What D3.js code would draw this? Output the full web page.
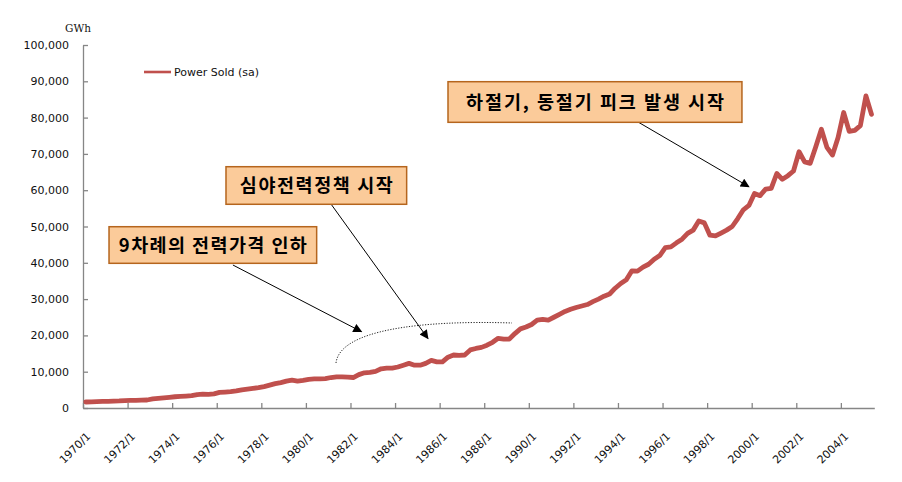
<!DOCTYPE html>
<html>
<head>
<meta charset="utf-8">
<script src="https://cdn.jsdelivr.net/npm/d3@7"></script>
<style>
  html, body { margin: 0; padding: 0; background: #fff; }
  svg { display: block; }
</style>
</head>
<body>
<div id="chart"></div>
<script>
// ---------------- data ----------------
const startYear = 1970;
const quarterCount = 142; // 1970/1 .. 2005/2
const categories = d3.range(quarterCount).map(i => `${startYear + Math.floor(i / 4)}/${(i % 4) + 1}`);

const seriesName = "Power Sold (sa)";
const powerSold = [
  1650, 1700, 1750, 1800,     // 1970
  1850, 1900, 1950, 2050,     // 1971
  2100, 2100, 2150, 2200,     // 1972
  2500, 2650, 2800, 2950,     // 1973
  3100, 3200, 3300, 3400,     // 1974
  3700, 3800, 3750, 3900,     // 1975
  4300, 4400, 4500, 4700,     // 1976
  5000, 5200, 5400, 5600,     // 1977
  5900, 6300, 6700, 7000,     // 1978
  7400, 7700, 7400, 7600,     // 1979
  7900, 8000, 8000, 8100,     // 1980
  8400, 8600, 8600, 8500,     // 1981
  8400, 9200, 9700, 9800,     // 1982
  10100, 10800, 11000, 11000, // 1983
  11300, 11800, 12300, 11800, // 1984
  11800, 12300, 13100, 12700, // 1985
  12700, 14000, 14600, 14500, // 1986
  14600, 16000, 16400, 16700, // 1987
  17300, 18100, 19200, 19000, // 1988
  19000, 20500, 21800, 22300, // 1989
  23000, 24200, 24400, 24200, // 1990
  25000, 25800, 26600, 27200, // 1991
  27700, 28100, 28500, 29300, // 1992
  30000, 30800, 31400, 33000, // 1993
  34300, 35300, 37800, 37700, // 1994
  38800, 39600, 41000, 42000, // 1995
  44200, 44400, 45500, 46500, // 1996
  48100, 49000, 51500, 51000, // 1997
  47600, 47400, 48200, 49000, // 1998
  50000, 52200, 54600, 55800, // 1999
  59100, 58500, 60300, 60500, // 2000
  64600, 63000, 64000, 65300, // 2001
  70600, 67800, 67400, 72000, // 2002
  76800, 71800, 69700, 74500, // 2003
  81400, 76200, 76500, 77800, // 2004
  86000, 80900                // 2005
];

const yTicks = [0, 10000, 20000, 30000, 40000, 50000, 60000, 70000, 80000, 90000, 100000];
const xTickEvery = 8; // label every 2 years
const unitLabel = "GWh";

// annotations (positions in data units: quarter index, GWh)
const annotationTexts = ["하절기, 동절기 피크 발생 시작", "심야전력정책 시작", "9차례의 전력가격 인하"];
const annotationTextWidths = [258, 153, 188];
const annotationBoxes = [
  { i0: 65.5, i1: 118.25, v0: 89890, v1: 78700 },
  { i0: 25.66, i1: 58.08, v0: 66470, v1: 56120 },
  { i0: 4.67, i1: 41.93, v0: 49940, v1: 39860 }
];
const annotationArrows = [
  { from: [99.6, 78790], to: [119.5, 60960] },
  { from: [44.63, 55920], to: [61.9, 19150] },
  { from: [26.9, 39390], to: [49.97, 21020] }
];
const dottedCurve = [[45.4, 12400], [46.1, 21490], [60.47, 24240], [76.98, 23420]];

// ---------------- layout ----------------
const W = 902, H = 482;
const plot = { left: 83, right: 874.3, top: 45, bottom: 408 };
const lineColor = "#C0504D";
const axisColor = "#868686";

const svg = d3.select("#chart").append("svg")
  .attr("width", W).attr("height", H)
  .attr("viewBox", `0 0 ${W} ${H}`);
svg.append("rect").attr("width", W).attr("height", H).attr("fill", "#fff");

const x = d3.scaleBand().domain(categories).range([plot.left, plot.right]).padding(0);
const xEdge = d3.scaleLinear().domain([0, quarterCount]).range([plot.left, plot.right]);
const y = d3.scaleLinear().domain([0, 100000]).range([plot.bottom, plot.top]);

// y axis
const yAxis = svg.append("g")
  .attr("transform", `translate(${plot.left},0)`)
  .call(d3.axisLeft(y).tickValues(yTicks).tickFormat(d3.format(",")).tickSizeInner(-5).tickSizeOuter(0).tickPadding(14));
yAxis.select(".domain").attr("stroke", axisColor).attr("stroke-width", 1.3);
yAxis.selectAll(".tick line").attr("stroke", axisColor).attr("stroke-width", 1.3);
yAxis.selectAll(".tick text")
  .attr("font-family", "'DejaVu Sans', sans-serif").attr("font-size", 11).attr("fill", "#111");

// x axis
const xTickIdx = d3.range(0, quarterCount, xTickEvery);
const xAxis = svg.append("g")
  .attr("transform", `translate(0,${plot.bottom})`)
  .call(d3.axisBottom(xEdge).tickValues(xTickIdx).tickFormat(i => categories[i]).tickSizeInner(-5).tickSizeOuter(0));
xAxis.select(".domain").attr("stroke", axisColor).attr("stroke-width", 1.3);
xAxis.selectAll(".tick line").attr("stroke", axisColor).attr("stroke-width", 1.3);
xAxis.selectAll(".tick text")
  .attr("font-family", "'DejaVu Sans', sans-serif").attr("font-size", 11).attr("fill", "#111")
  .attr("text-anchor", "end")
  .attr("dy", 0)
  .attr("y", 0)
  .attr("transform", function(i) { return `translate(${x.bandwidth() / 2 + 5},29) rotate(-45)`; });

// unit label
svg.append("text")
  .attr("x", plot.left - 5).attr("y", 32)
  .attr("text-anchor", "middle")
  .attr("font-family", "'DejaVu Serif', serif").attr("font-size", 10.5).attr("fill", "#111")
  .text(unitLabel);

// series line
const line = d3.line()
  .x((d, i) => x(categories[i]) + x.bandwidth() / 2)
  .y(d => y(d));
svg.append("path")
  .datum(powerSold)
  .attr("d", line)
  .attr("fill", "none")
  .attr("stroke", lineColor)
  .attr("stroke-width", 4.8)
  .attr("stroke-linejoin", "round")
  .attr("stroke-linecap", "round");

// legend
const legend = svg.append("g").attr("transform", "translate(144,72)");
legend.append("line").attr("x1", 0).attr("x2", 27).attr("y1", 0).attr("y2", 0)
  .attr("stroke", lineColor).attr("stroke-width", 2.6);
legend.append("text").attr("x", 30).attr("y", 4)
  .attr("font-family", "'DejaVu Sans', sans-serif").attr("font-size", 11).attr("fill", "#111")
  .text(seriesName);

// arrowhead marker
const defs = svg.append("defs");
defs.append("marker")
  .attr("id", "arrowhead")
  .attr("viewBox", "0 0 10 10")
  .attr("refX", 9).attr("refY", 5)
  .attr("markerWidth", 11).attr("markerHeight", 9)
  .attr("markerUnits", "userSpaceOnUse")
  .attr("orient", "auto")
  .append("path").attr("d", "M0,0 L10,5 L0,10 Z").attr("fill", "#000");

// dotted curve
const cp = dottedCurve.map(([i, v]) => [xEdge(i), y(v)]);
const curvePath = d3.path();
curvePath.moveTo(cp[0][0], cp[0][1]);
curvePath.bezierCurveTo(cp[1][0], cp[1][1], cp[2][0], cp[2][1], cp[3][0], cp[3][1]);
svg.append("path")
  .attr("d", curvePath.toString())
  .attr("fill", "none")
  .attr("stroke", "#222")
  .attr("stroke-width", 1)
  .attr("stroke-dasharray", "1.2,1.5");

// arrows
svg.selectAll("line.arrow")
  .data(annotationArrows)
  .join("line")
  .attr("class", "arrow")
  .attr("x1", d => xEdge(d.from[0])).attr("y1", d => y(d.from[1]))
  .attr("x2", d => xEdge(d.to[0])).attr("y2", d => y(d.to[1]))
  .attr("stroke", "#000").attr("stroke-width", 1)
  .attr("marker-end", "url(#arrowhead)");

// annotation boxes
const boxes = svg.selectAll("g.note")
  .data(annotationBoxes)
  .join("g")
  .attr("class", "note");
boxes.append("rect")
  .attr("x", d => xEdge(d.i0)).attr("y", d => y(d.v0))
  .attr("width", d => xEdge(d.i1) - xEdge(d.i0))
  .attr("height", d => y(d.v1) - y(d.v0))
  .attr("fill", "#FBCB9A")
  .attr("stroke", "#B5651D")
  .attr("stroke-width", 1.5);
boxes.append("text")
  .attr("x", d => (xEdge(d.i0) + xEdge(d.i1)) / 2)
  .attr("y", d => (y(d.v0) + y(d.v1)) / 2)
  .attr("dy", "0.36em")
  .attr("text-anchor", "middle")
  .attr("font-family", "'Noto Sans CJK KR', sans-serif")
  .attr("font-weight", 700)
  .attr("font-size", 18.5)
  .attr("fill", "#000")
  .attr("textLength", (d, i) => annotationTextWidths[i])
  .attr("lengthAdjust", "spacing")
  .text((d, i) => annotationTexts[i]);
</script>
</body>
</html>
